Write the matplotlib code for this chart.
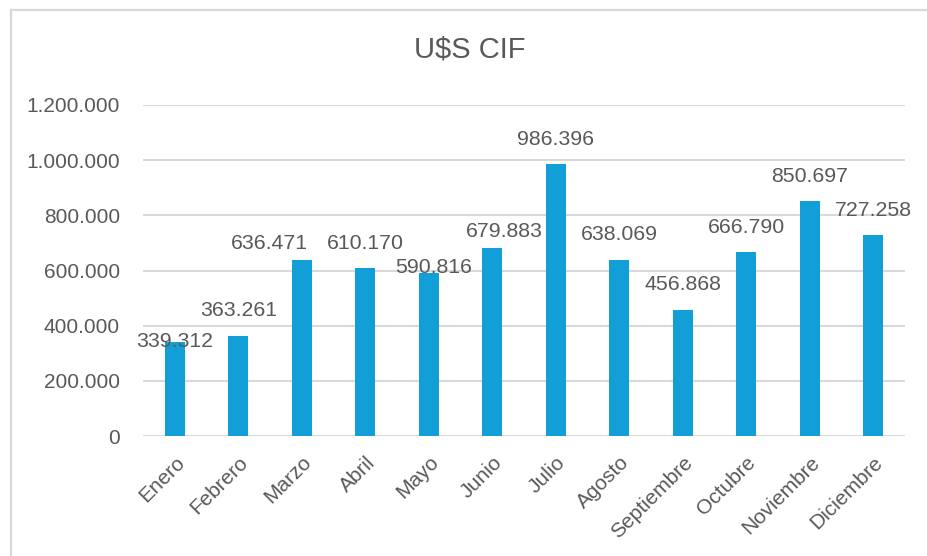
import matplotlib
matplotlib.use("Agg")
import matplotlib.pyplot as plt
from matplotlib.lines import Line2D
from matplotlib.ticker import FuncFormatter

months = ["Enero", "Febrero", "Marzo", "Abril", "Mayo", "Junio", "Julio",
          "Agosto", "Septiembre", "Octubre", "Noviembre", "Diciembre"]
values = [339312, 363261, 636471, 610170, 590816, 679883, 986396,
          638069, 456868, 666790, 850697, 727258]
y_ticks = [0, 200000, 400000, 600000, 800000, 1000000, 1200000]

# label offsets (pixels) relative to bar top, mimicking Excel's label placement
label_dx = [0, 0, -32, 0, 5, 12, 0, 0, 0, 0, 0, 0]
label_dy = [1, 25, 17, 24, 6, 17, 24, 25, 25, 25, 25, 25]

plt.rcParams['font.family'] = ['Liberation Sans', 'DejaVu Sans']
txt = '#595959'
bar_color = '#129ED6'
grid_color = '#D9D9D9'

fig = plt.figure(figsize=(9.27, 5.56), dpi=100)
W, H = 927, 556
fig.lines.append(Line2D([11/W, 1], [1 - 10/H, 1 - 10/H], transform=fig.transFigure,
                        color=grid_color, linewidth=1.6))
fig.lines.append(Line2D([11/W, 11/W], [0, 1 - 10/H], transform=fig.transFigure,
                        color=grid_color, linewidth=1.6))
ax = fig.add_axes([143/W, 1 - 436/H, (905 - 143)/W, (436 - 105)/H])

x = list(range(len(months)))
ax.bar(x, values, width=0.32, color=bar_color, zorder=3)
ax.set_xlim(-0.5, len(months) - 0.5)
ax.set_ylim(0, 1200000)
ax.set_yticks(y_ticks)
ax.yaxis.set_major_formatter(FuncFormatter(lambda v, p: f"{int(v):,}".replace(",", ".")))
ax.grid(axis='y', color=grid_color, linewidth=1.5, zorder=0)
for s in ax.spines.values():
    s.set_visible(False)
ax.tick_params(axis='both', length=0, labelsize=15, colors=txt)
ax.tick_params(axis='y', pad=16.5)
ax.set_xticks(x)
ax.set_xticklabels(months, rotation=45, ha='right', rotation_mode='anchor')
ax.tick_params(axis='x', pad=12)

for i, v in enumerate(values):
    ax.annotate(f"{v:,}".replace(",", "."), (i, v),
                xytext=(label_dx[i], label_dy[i]), textcoords='offset pixels',
                ha='center', va='center', fontsize=15.3, color=txt, zorder=4)

fig.text(470/W, 1 - 50/H, "U$S CIF", ha='center', va='center', fontsize=21, color=txt)

fig.savefig("out.png", dpi=100)
